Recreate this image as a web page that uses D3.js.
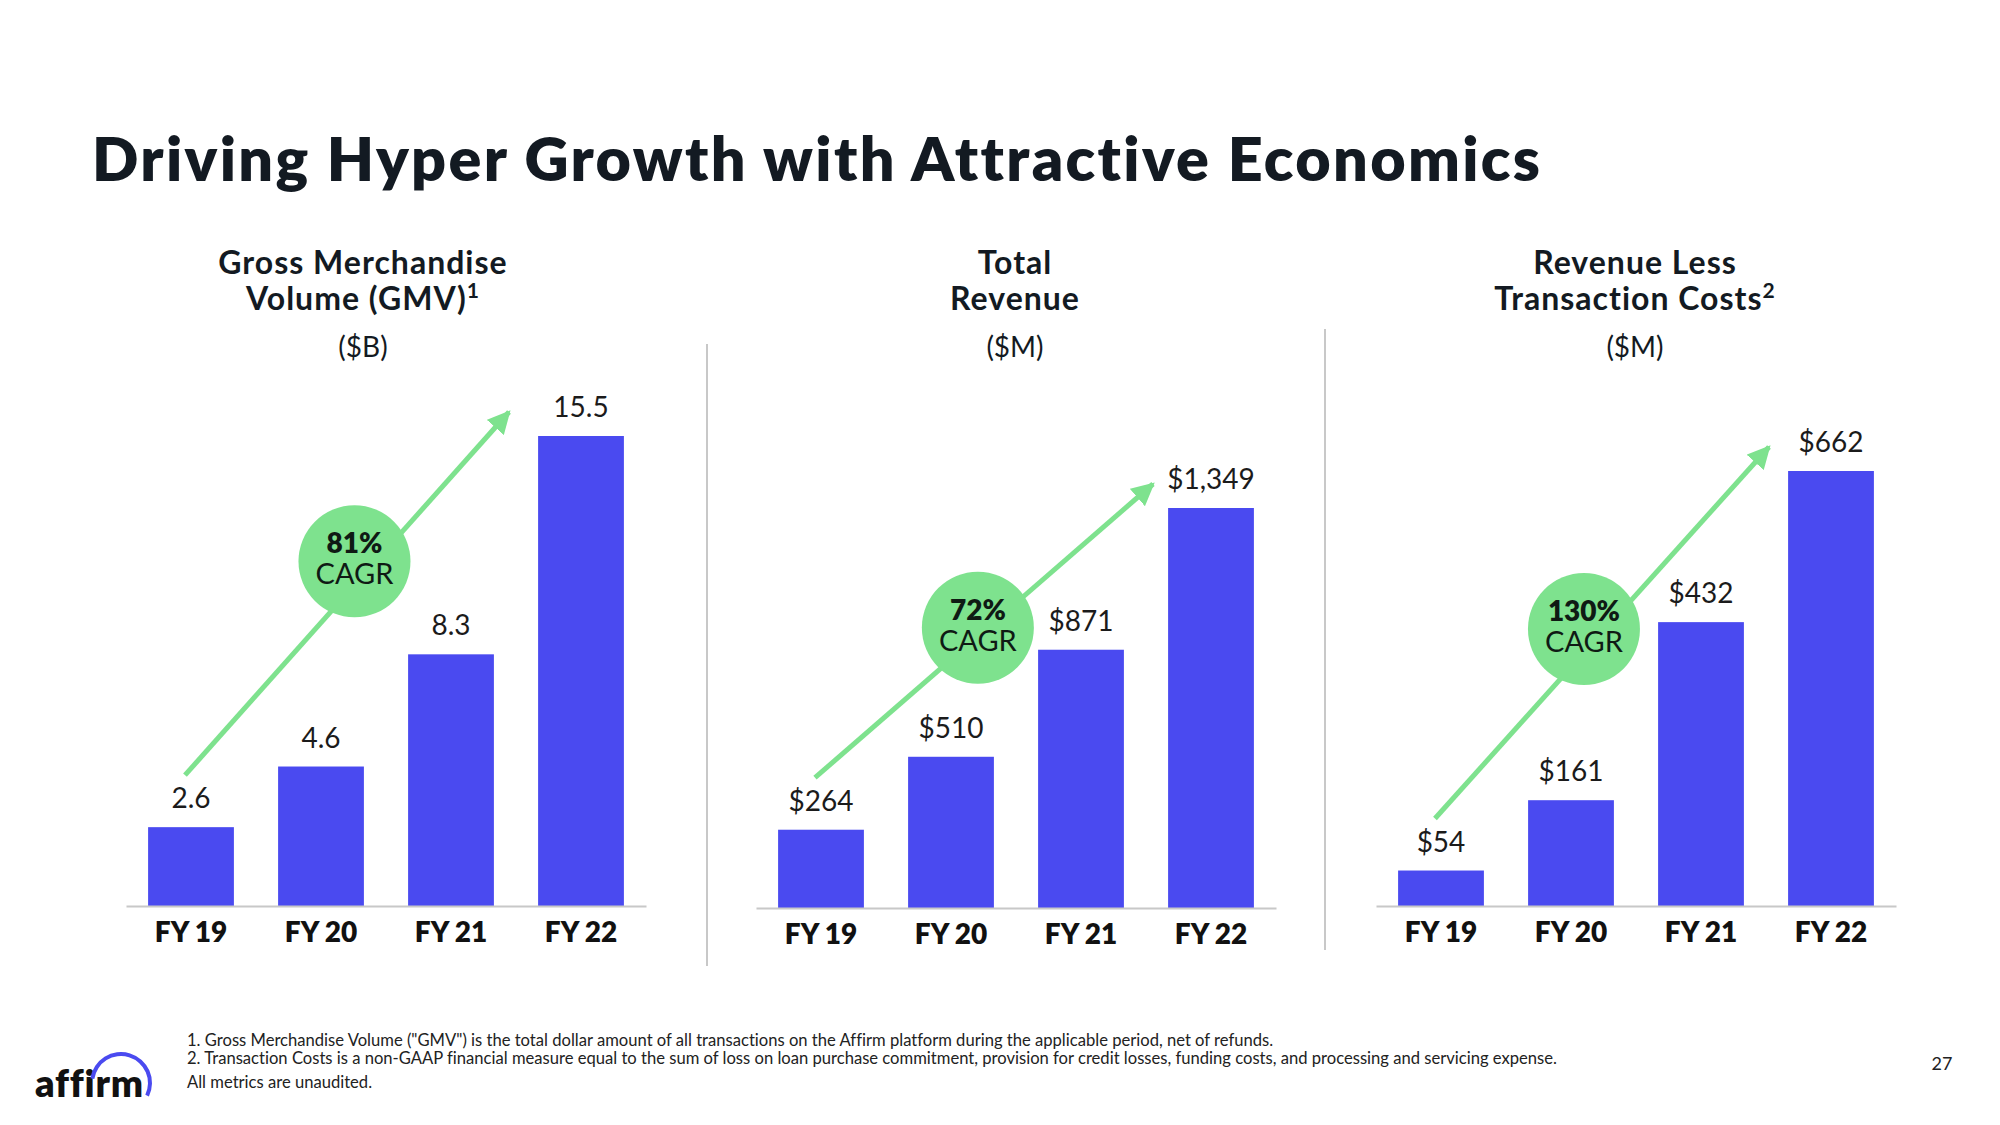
<!DOCTYPE html>
<html>
<head>
<meta charset="utf-8">
<script src="https://cdn.jsdelivr.net/npm/d3@7"></script>
<style>
  html, body { margin: 0; padding: 0; background: #fff; }
  svg { display: block; font-family: Lato, "Noto Sans", sans-serif; font-variant-ligatures: none; }
</style>
</head>
<body>
<svg id="slide" width="2000" height="1125"></svg>
<script>
/** DATA **/
var categories = ['FY 19', 'FY 20', 'FY 21', 'FY 22'];
var gmvValues = [2.6, 4.6, 8.3, 15.5];
var revenueValues = [264, 510, 871, 1349];
var rltcValues = [54, 161, 432, 662];
var gmvLabels = ['2.6', '4.6', '8.3', '15.5'];
var revenueLabels = ['$264', '$510', '$871', '$1,349'];
var rltcLabels = ['$54', '$161', '$432', '$662'];
var cagrLabels = ['81%', '72%', '130%'];
var panelTitles = [
   ['Gross Merchandise', 'Volume (GMV)', '1'],
   ['Total', 'Revenue', ''],
   ['Revenue Less', 'Transaction Costs', '2']
];
var panelUnits = ['($B)', '($M)', '($M)'];
var footnotes = [
   '1. Gross Merchandise Volume ("GMV") is the total dollar amount of all transactions on the Affirm platform during the applicable period, net of refunds.',
   '2. Transaction Costs is a non-GAAP financial measure equal to the sum of loss on loan purchase commitment, provision for credit losses, funding costs, and processing and servicing expense.',
   'All metrics are unaudited.'
];

/** LAYOUT **/
var BAR = '#4a4af0', GREEN = '#7ee28e', INK = '#131a22', GRID = '#c8c8c8';

var panels = [
   { values: gmvValues, labels: gmvLabels, x0: 126, x1: 646, base: 906, maxH: 470, cx: 363, endDx: -72, cagrT: 0.52, cagrOff: [1, -25] },
   { values: revenueValues, labels: revenueLabels, x0: 756, x1: 1276, base: 908, maxH: 400, cx: 1015, endDx: -58, cagrT: 0.47, cagrOff: [4, -12] },
   { values: rltcValues, labels: rltcLabels, x0: 1376, x1: 1896, base: 906, maxH: 435, cx: 1635, endDx: -62, cagrT: 0.44, cagrOff: [2, -26] }
];

var svg = d3.select('#slide');

// title
var title = svg.append('text')
   .attr('x', 92)
   .attr('y', 181)
   .attr('fill', INK)
   .style('font-size', '61px')
   .style('font-weight', 800)
   .text('Driving Hyper Growth with Attractive Economics');
var tw = title.node().getComputedTextLength();
title.style('letter-spacing', ((1448 - tw) / 45) + 'px');

// arrow head marker
svg.append('defs').append('marker')
   .attr('id', 'head')
   .attr('viewBox', '0 0 10 10')
   .attr('refX', 9).attr('refY', 5)
   .attr('markerWidth', 4.6).attr('markerHeight', 4.6)
   .attr('markerUnits', 'strokeWidth')
   .attr('orient', 'auto')
   .append('path')
   .attr('d', 'M0,0 L10,5 L0,10 Z')
   .attr('fill', GREEN);

panels.forEach(function(p, i){
   var g = svg.append('g');

   var x = d3.scaleBand()
      .domain(categories)
      .range([p.x0, p.x1])
      .paddingInner(0.34)
      .paddingOuter(0.17);
   var y = d3.scaleLinear()
      .domain([0, d3.max(p.values)])
      .range([p.base, p.base - p.maxH]);

   // heading
   var t = panelTitles[i];
   g.append('text')
      .attr('x', p.cx).attr('y', 274)
      .attr('text-anchor', 'middle')
      .attr('fill', INK)
      .style('font-size', '32px').style('font-weight', 700)
      .style('letter-spacing', '1px')
      .text(t[0]);
   var l2 = g.append('text')
      .attr('x', p.cx).attr('y', 310)
      .attr('text-anchor', 'middle')
      .attr('fill', INK)
      .style('font-size', '32px').style('font-weight', 700)
      .style('letter-spacing', '1px');
   l2.append('tspan').text(t[1]);
   if (t[2]) {
      l2.append('tspan')
         .attr('dy', -12)
         .style('font-size', '21px')
         .text(t[2]);
   }
   g.append('text')
      .attr('x', p.cx).attr('y', 357)
      .attr('text-anchor', 'middle')
      .attr('fill', INK)
      .style('font-size', '28px')
      .text(panelUnits[i]);

   // bars
   g.selectAll('rect.bar')
      .data(p.values)
      .enter()
      .append('rect')
      .attr('class', 'bar')
      .attr('x', function(d, j){ return x(categories[j]); })
      .attr('y', function(d){ return y(d); })
      .attr('width', x.bandwidth())
      .attr('height', function(d){ return p.base - y(d); })
      .attr('fill', BAR);

   // value labels
   g.selectAll('text.val')
      .data(p.values)
      .enter()
      .append('text')
      .attr('class', 'val')
      .attr('x', function(d, j){ return x(categories[j]) + x.bandwidth() / 2; })
      .attr('y', function(d){ return y(d) - 19; })
      .attr('text-anchor', 'middle')
      .attr('fill', '#1b1b1b')
      .style('font-size', '28px')
      .text(function(d, j){ return p.labels[j]; });

   // axis
   var axis = g.append('g')
      .attr('transform', 'translate(0,' + p.base + ')')
      .call(d3.axisBottom(x).tickSize(0).tickPadding(16));
   axis.select('.domain').attr('stroke', GRID).attr('stroke-width', 2);
   axis.selectAll('.tick text')
      .attr('fill', '#111')
      .style('font-family', 'Lato, "Noto Sans", sans-serif')
      .style('font-size', '28px')
      .style('font-weight', 800);

   // CAGR arrow
   var first = categories[0], last = categories[categories.length - 1];
   var sx = x(first) + x.bandwidth() / 2 - 6,
      sy = y(p.values[0]) - 52,
      ex = x(last) + x.bandwidth() / 2 + p.endDx,
      ey = y(p.values[p.values.length - 1]) - 24;
   g.append('line')
      .attr('x1', sx).attr('y1', sy)
      .attr('x2', ex).attr('y2', ey)
      .attr('stroke', GREEN)
      .attr('stroke-width', 5)
      .attr('marker-end', 'url(#head)');

   var ccx = sx + (ex - sx) * p.cagrT + p.cagrOff[0],
      ccy = sy + (ey - sy) * p.cagrT + p.cagrOff[1];
   g.append('circle')
      .attr('cx', ccx).attr('cy', ccy)
      .attr('r', 56)
      .attr('fill', GREEN);
   g.append('text')
      .attr('x', ccx).attr('y', ccy - 8)
      .attr('text-anchor', 'middle')
      .attr('fill', '#0f1a14')
      .style('font-size', '28px').style('font-weight', 800)
      .text(cagrLabels[i]);
   g.append('text')
      .attr('x', ccx).attr('y', ccy + 23)
      .attr('text-anchor', 'middle')
      .attr('fill', '#0f1a14')
      .style('font-size', '29px')
      .text('CAGR');
});

// dividers
svg.append('line')
   .attr('x1', 707).attr('x2', 707).attr('y1', 344).attr('y2', 966)
   .attr('stroke', GRID).attr('stroke-width', 2);
svg.append('line')
   .attr('x1', 1325).attr('x2', 1325).attr('y1', 329).attr('y2', 950)
   .attr('stroke', GRID).attr('stroke-width', 2);

// footnotes
svg.selectAll('text.note')
   .data(footnotes)
   .enter()
   .append('text')
   .attr('class', 'note')
   .attr('x', 187)
   .attr('y', function(d, i){ return [1046, 1064, 1088][i]; })
   .attr('fill', '#222')
   .style('font-size', '16.6px')
   .text(function(d){ return d; });

// page number
svg.append('text')
   .attr('x', 1942).attr('y', 1070)
   .attr('text-anchor', 'middle')
   .attr('fill', '#222')
   .style('font-size', '18px')
   .text('27');

// logo
svg.append('text')
   .attr('x', 35).attr('y', 1097)
   .attr('fill', '#111')
   .attr('textLength', 108)
   .attr('lengthAdjust', 'spacing')
   .style('font-size', '38px').style('font-weight', 800)
   .text('affirm');
svg.append('path')
   .attr('transform', 'translate(121,1083)')
   .attr('d', d3.arc().innerRadius(27).outerRadius(31).startAngle(-1.42).endAngle(2.02)())
   .attr('fill', BAR);
</script>
</body>
</html>
